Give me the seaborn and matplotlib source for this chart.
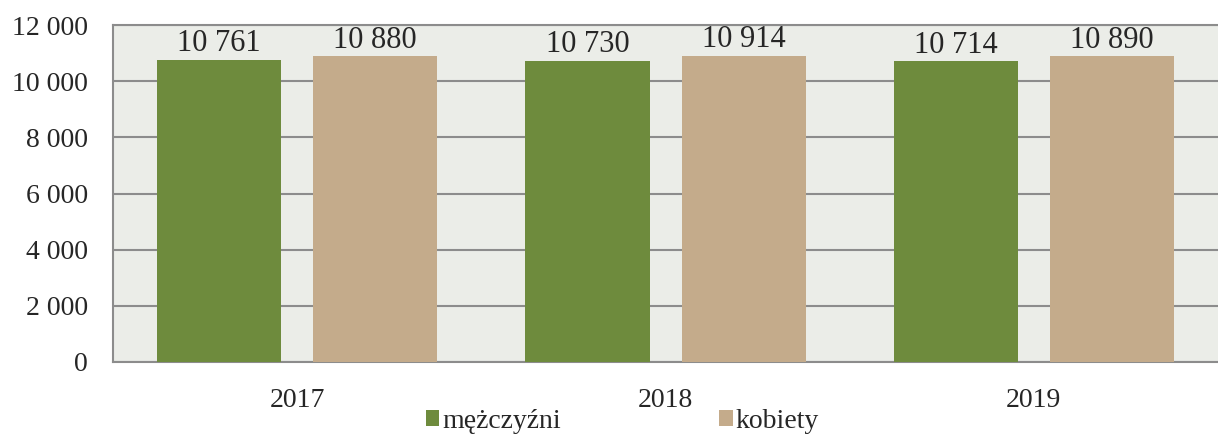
import pandas as pd
import matplotlib
matplotlib.use("Agg")
import matplotlib.pyplot as plt
import seaborn as sns

# data
years = ["2017", "2018", "2019"]
men = [10761, 10730, 10714]
women = [10880, 10914, 10890]
series_names = ["mężczyźni", "kobiety"]
colors = ["#6E8B3D", "#C4AB8B"]

df = pd.DataFrame({
    "rok": years * 2,
    "plec": [series_names[0]] * 3 + [series_names[1]] * 3,
    "wartosc": men + women,
})

sns.set_theme(style="white")
plt.rcParams["font.family"] = ["Liberation Serif", "DejaVu Serif"]

fig = plt.figure(figsize=(12.18, 4.42), dpi=100)
ax = fig.add_axes([0.0928, 0.181, 0.9072, 0.7624])
ax.set_facecolor("#EBEDE8")

sns.barplot(data=df, x="rok", y="wartosc", hue="plec", palette=colors,
            saturation=1, width=0.848, gap=0.205, linewidth=0,
            ax=ax, zorder=3, legend=True)

ax.set_ylim(0, 12000)
ax.set_yticks(range(0, 12001, 2000))
ax.set_yticklabels([f"{v:,}".replace(",", " ") for v in range(0, 12001, 2000)])
ax.yaxis.grid(True, color="#8C8C8C", linewidth=1.5, zorder=0)
ax.set_axisbelow(True)
ax.tick_params(axis="both", length=0, labelsize=20)
ax.tick_params(axis="y", pad=18)
ax.tick_params(axis="x", pad=19)
ax.set_xlabel("")
ax.set_ylabel("")

for side in ["top", "left", "bottom"]:
    ax.spines[side].set_color("#8C8C8C")
    ax.spines[side].set_linewidth(1.5)
ax.spines["right"].set_visible(False)

for cont in ax.containers:
    ax.bar_label(cont, labels=[f"{v:,.0f}".replace(",", " ") for v in cont.datavalues],
                 fontsize=22, padding=1)

handles, labels = ax.get_legend_handles_labels()
ax.legend_.remove()
fig.legend(handles, labels, loc="lower center", bbox_to_anchor=(0.511, -0.038),
           ncol=2, frameon=False, fontsize=20, handlelength=0.5, handleheight=0.5,
           handletextpad=0.1, columnspacing=5.7)

fig.savefig("out.png", dpi=100)
